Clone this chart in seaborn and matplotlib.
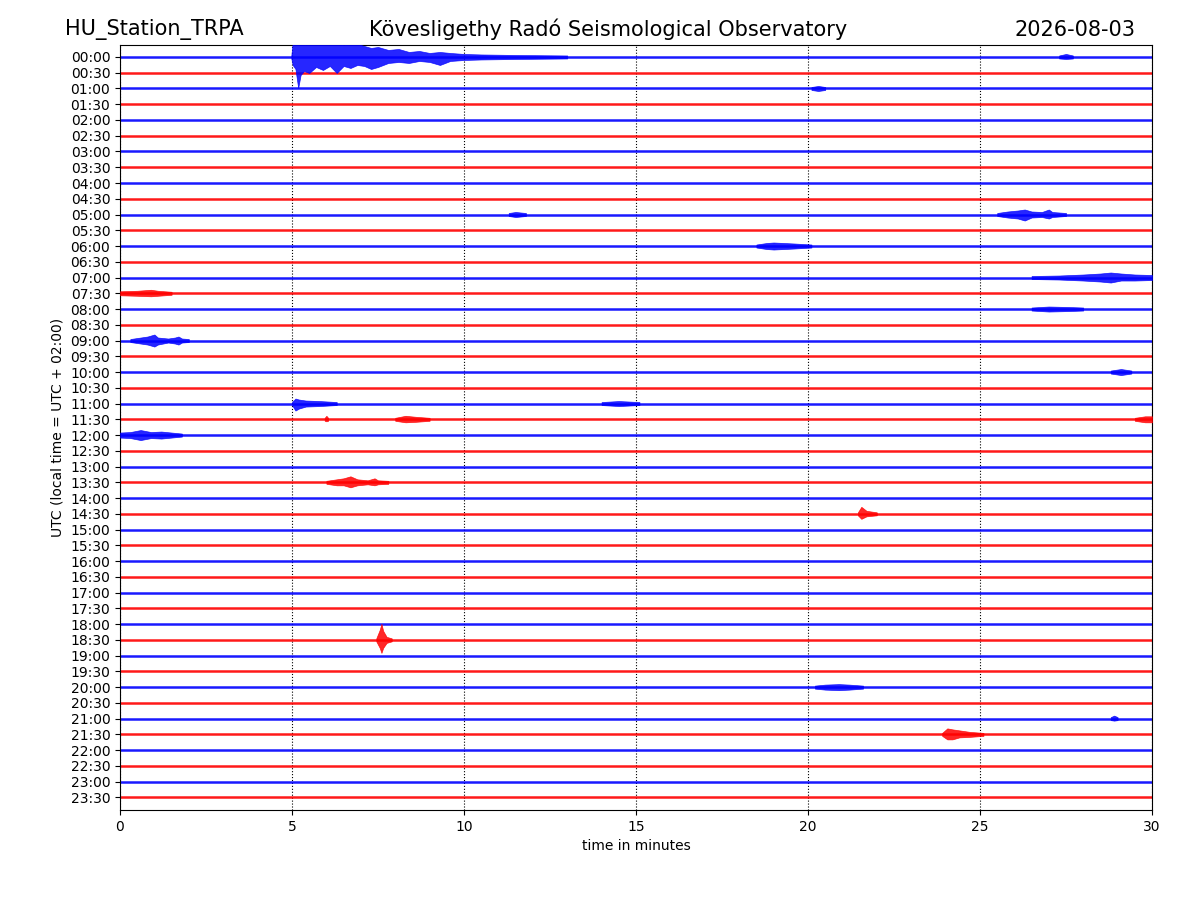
import numpy as np
import pandas as pd
import matplotlib
matplotlib.use("Agg")
import matplotlib.pyplot as plt
import seaborn as sns

# ---------------- data ----------------
STATION = "HU_Station_TRPA"
OBSERVATORY = "Kövesligethy Radó Seismological Observatory"
DATE = "2026-08-03"

ROW_LABELS = [
    "00:00", "00:30", "01:00", "01:30", "02:00", "02:30", "03:00", "03:30",
    "04:00", "04:30", "05:00", "05:30", "06:00", "06:30", "07:00", "07:30",
    "08:00", "08:30", "09:00", "09:30", "10:00", "10:30", "11:00", "11:30",
    "12:00", "12:30", "13:00", "13:30", "14:00", "14:30", "15:00", "15:30",
    "16:00", "16:30", "17:00", "17:30", "18:00", "18:30", "19:00", "19:30",
    "20:00", "20:30", "21:00", "21:30", "22:00", "22:30", "23:00", "23:30",
]
TRACE_COLORS = ["blue", "red"]  # alternating per row
MINUTES = [0, 30]
X_TICKS = [0, 5, 10, 15, 20, 25, 30]

# events: row label -> list of events; each event = list of (minute, amp_up, amp_down) in pixels
EVENTS = {
    "00:00": [
        [(4.98, 1.5, 1.5), (5.02, 14, 8), (5.1, 16, 12), (5.18, 14, 31), (5.25, 16, 18),
         (5.35, 12, 14), (5.5, 16, 16), (5.7, 14, 10), (5.9, 16, 13), (6.1, 13, 9),
         (6.3, 15, 16), (6.5, 12, 9), (6.7, 14, 11), (6.9, 13, 8), (7.1, 11, 9),
         (7.3, 9, 12), (7.5, 10, 10), (7.8, 7, 6), (8.1, 8, 5), (8.4, 5, 6),
         (8.7, 6, 4), (9.0, 4, 5), (9.3, 5, 8), (9.6, 4, 4), (10.0, 3, 3),
         (10.5, 2.5, 2.5), (11.5, 2, 2), (13.0, 1.5, 1.5)],
        [(27.3, 1.5, 1.5), (27.5, 3, 2), (27.7, 1.5, 1.5)],
    ],
    "01:00": [[(20.1, 1.5, 1.5), (20.3, 2.5, 2.5), (20.5, 1.5, 1.5)]],
    "05:00": [
        [(11.3, 1.5, 1.5), (11.5, 2.5, 2.5), (11.8, 1.5, 1.5)],
        [(25.5, 1.5, 1.5), (25.8, 3, 3), (26.1, 4, 4), (26.3, 5, 6), (26.5, 3, 3),
         (26.8, 2.5, 2.5), (27.0, 5, 4), (27.1, 2.5, 2.5), (27.5, 1.5, 1.5)],
    ],
    "06:00": [[(18.5, 1.5, 1.5), (18.8, 3, 3), (19.0, 3.5, 3.5), (19.3, 3, 3),
               (19.6, 2.5, 2.5), (20.1, 1.5, 1.5)]],
    "07:00": [[(26.5, 1.5, 1.5), (27.3, 2, 2), (28.0, 3, 3), (28.5, 4, 4), (28.8, 5, 5),
               (29.1, 4, 3), (29.5, 3, 3), (30.0, 2.5, 2.5)]],
    "07:30": [[(0.0, 2, 2), (0.5, 2.5, 2.5), (0.9, 3.5, 3), (1.1, 2.5, 2.5), (1.5, 1.5, 1.5)]],
    "08:00": [[(26.5, 1.5, 1.5), (27.0, 2.5, 2.5), (27.6, 2, 2), (28.0, 1.5, 1.5)]],
    "09:00": [[(0.3, 1.5, 1.5), (0.6, 3, 3), (0.8, 4, 4), (1.0, 6, 6), (1.1, 3, 4),
               (1.4, 2, 2), (1.6, 3, 3), (1.7, 4, 4), (1.8, 2, 2), (2.0, 1.5, 1.5)]],
    "10:00": [[(28.8, 1.5, 1.5), (29.1, 3, 3), (29.4, 1.5, 1.5)]],
    "11:00": [
        [(5.0, 1.5, 1.5), (5.1, 5, 7), (5.2, 4, 5), (5.4, 3, 3), (5.8, 2.5, 2.5), (6.3, 1.5, 1.5)],
        [(14.0, 1.5, 1.5), (14.5, 2.5, 2.5), (15.1, 1.5, 1.5)],
    ],
    "11:30": [
        [(5.95, 1.5, 1.5), (6.0, 3.5, 2), (6.05, 1.5, 1.5)],
        [(8.0, 1.5, 1.5), (8.3, 3.5, 3), (8.6, 2.5, 2.5), (9.0, 1.5, 1.5)],
        [(29.5, 1.5, 1.5), (29.8, 3, 3), (30.0, 3, 3)],
    ],
    "12:00": [[(0.0, 2.5, 2.5), (0.3, 3, 3), (0.6, 5, 5), (0.9, 3, 3), (1.2, 3.5, 3.5),
               (1.5, 2.5, 2.5), (1.8, 1.5, 1.5)]],
    "13:30": [[(6.0, 1.5, 1.5), (6.3, 3, 3), (6.5, 4, 3), (6.7, 6, 5), (6.9, 3, 3),
               (7.2, 2, 2), (7.4, 4, 3), (7.5, 2, 2), (7.8, 1.5, 1.5)]],
    "14:30": [[(21.45, 1.5, 1.5), (21.55, 7, 5), (21.7, 3, 2.5), (22.0, 1.5, 1.5)]],
    "18:30": [[(7.45, 1.5, 1.5), (7.55, 10, 8), (7.6, 16, 13), (7.65, 9, 8),
               (7.75, 3, 3), (7.9, 1.5, 1.5)]],
    "20:00": [[(20.2, 1.5, 1.5), (20.5, 2.5, 2.5), (20.9, 3, 3), (21.2, 2.5, 2.5), (21.6, 1.5, 1.5)]],
    "21:00": [[(28.8, 1.5, 1.5), (28.9, 3, 2), (29.0, 1.5, 1.5)]],
    "21:30": [[(23.9, 1.5, 1.5), (24.05, 6, 5), (24.2, 5, 5), (24.4, 4, 3),
               (24.7, 2.5, 2.5), (25.1, 1.5, 1.5)]],
}

PX_PER_ROW = 15.74  # pixel amplitude -> row units

# ---------------- plot ----------------
plt.rcParams['font.family'] = ['DejaVu Sans']
fig = plt.figure(figsize=(12, 9), dpi=100)
ax = fig.add_axes([0.1, 0.1, 0.86, 0.85])

palette = {lab: TRACE_COLORS[i % 2] for i, lab in enumerate(ROW_LABELS)}
base = pd.DataFrame(
    [(lab, i, m) for i, lab in enumerate(ROW_LABELS) for m in MINUTES],
    columns=["label", "pos", "minute"],
)
sns.lineplot(data=base, x="minute", y="pos", hue="label", palette=palette,
             estimator=None, legend=False, linewidth=1.8, alpha=0.9, ax=ax)

for i, lab in enumerate(ROW_LABELS):
    col = TRACE_COLORS[i % 2]
    for ev in EVENTS.get(lab, []):
        t = np.array([p[0] for p in ev])
        up = np.array([p[1] for p in ev]) / PX_PER_ROW
        dn = np.array([p[2] for p in ev]) / PX_PER_ROW
        ax.fill_between(t, i - up, i + dn, color=col, alpha=0.85,
                        linewidth=0.5, zorder=3)

ax.set_xlim(0, 30)
ax.set_ylim(47.8, -0.76)
ax.set_yticks(range(len(ROW_LABELS)))
ax.set_yticklabels(ROW_LABELS)
ax.set_xticks(X_TICKS)
ax.xaxis.grid(True, linestyle=":", color="black", linewidth=0.8)
ax.yaxis.grid(False)
ax.set_axisbelow(True)
ax.set_xlabel("time in minutes")
ax.set_ylabel("UTC (local time = UTC + 02:00)")

fig.text(0.054, 0.967, STATION, ha="left", va="center", fontsize=15)
fig.text(0.507, 0.967, OBSERVATORY, ha="center", va="center", fontsize=15)
fig.text(0.946, 0.967, DATE, ha="right", va="center", fontsize=15)

fig.savefig("out.png", dpi=100)
